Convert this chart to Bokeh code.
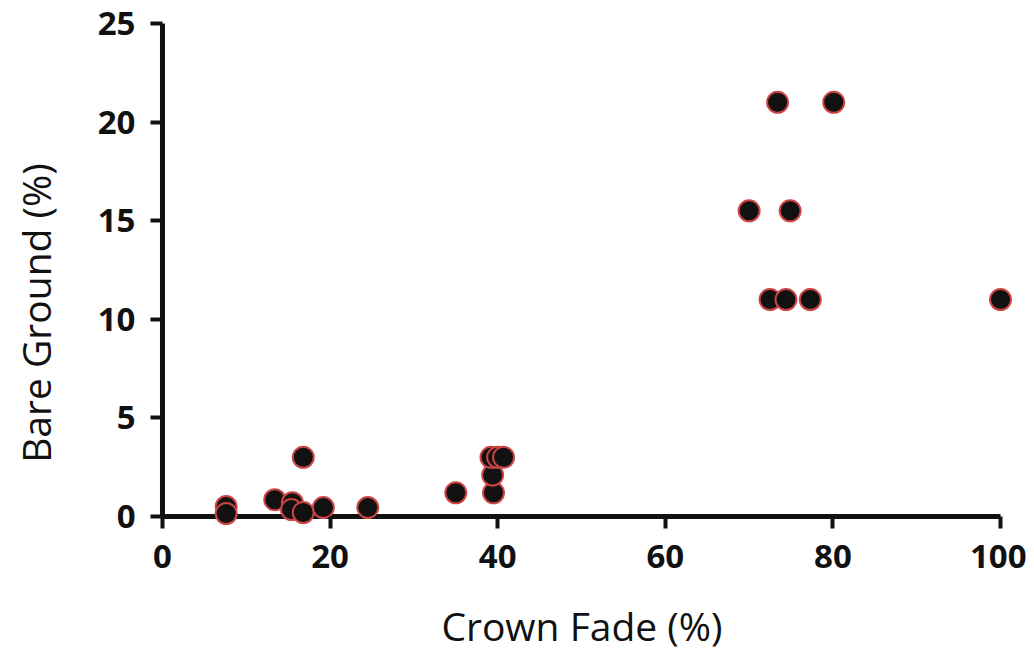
from bokeh.plotting import figure
from bokeh.models import Range1d, FixedTicker
from bokeh.embed import file_html
from bokeh.resources import INLINE

crown_fade = [7.6, 7.6, 13.4, 15.5, 15.4, 16.8, 19.2, 24.5, 16.8, 35.0, 39.5, 39.4,
              39.2, 40.0, 40.7, 70.0, 74.9, 73.4, 80.1, 72.5, 74.4, 77.3, 100.0]
bare_ground = [0.5, 0.15, 0.85, 0.7, 0.35, 0.2, 0.45, 0.45, 3.0, 1.2, 1.2, 2.1,
               3.0, 3.0, 3.0, 15.5, 15.5, 21.0, 21.0, 11.0, 11.0, 11.0, 11.0]
x_ticks = [0, 20, 40, 60, 80, 100]
y_ticks = [0, 5, 10, 15, 20, 25]
x_title = "Crown Fade (%)"
y_title = "Bare Ground (%)"

p = figure(width=1026, height=654, output_backend="svg", toolbar_location=None,
           x_range=Range1d(-1.43, 101.55), y_range=Range1d(-0.61, 25.35),
           min_border_left=150, min_border_right=13, min_border_top=16,
           min_border_bottom=126)
p.outline_line_color = None
p.grid.visible = False

# axis lines at the data origin
p.segment(x0=[x_ticks[0], x_ticks[0]], y0=[y_ticks[0], y_ticks[0]],
          x1=[x_ticks[-1], x_ticks[0]], y1=[y_ticks[0], y_ticks[-1]],
          line_color="#111111", line_width=5)

p.scatter(crown_fade, bare_ground, size=21, fill_color="#111111",
          line_color="#cc4444", line_width=2)

FONT = "Open Sans"
for ax in (p.xaxis[0], p.yaxis[0]):
    ax.axis_line_color = None
    ax.major_tick_line_width = 4
    ax.major_tick_line_color = "#111111"
    ax.major_tick_out = 0
    ax.major_tick_in = 12
    ax.minor_tick_out = 0
    ax.minor_tick_in = 0
    ax.major_label_text_font = FONT
    ax.major_label_text_font_style = "bold"
    ax.major_label_text_font_size = "33px"
    ax.major_label_text_color = "#111111"
    ax.axis_label_text_font = FONT
    ax.axis_label_text_font_style = "normal"
    ax.axis_label_text_font_size = "39px"
    ax.axis_label_text_color = "#111111"

p.xaxis[0].ticker = FixedTicker(ticks=x_ticks)
p.yaxis[0].ticker = FixedTicker(ticks=y_ticks)
p.xaxis[0].major_label_standoff = 16
p.yaxis[0].major_label_standoff = 15
p.xaxis[0].axis_label = x_title
# the reference's y title sits a little below the axis centre: pad its top end
p.yaxis[0].axis_label = y_title + "\u00a0" * 8
p.xaxis[0].axis_label_standoff = 28
p.yaxis[0].axis_label_standoff = 33

open("out.html", "w").write(file_html(p, INLINE))
